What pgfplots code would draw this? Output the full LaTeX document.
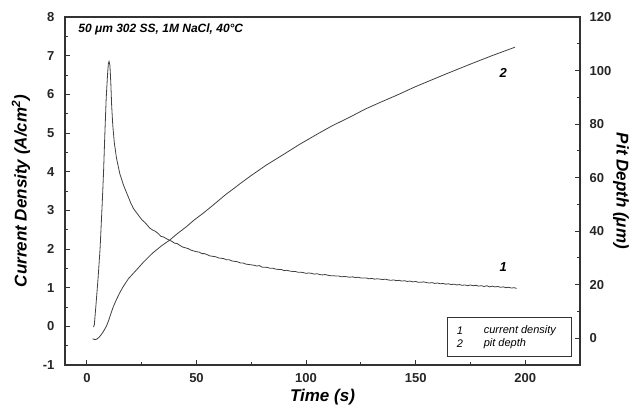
\documentclass[border=0pt]{standalone}
\usepackage{fontspec}
\setmainfont{Liberation Sans}
\usepackage{pgfplots}
\pgfplotsset{compat=1.18}
\definecolor{ln}{gray}{0.25}
\definecolor{ax}{gray}{0.2}
\newcommand{\tickf}{\fontsize{13}{15}\selectfont\bfseries}
\newcommand{\labf}{\fontsize{17}{20}\selectfont\bfseries\itshape}
\begin{document}
\begin{tikzpicture}
\begin{axis}[
  name=ax1,
  scale only axis, width=515pt, height=348pt,
  xmin=-10, xmax=225, ymin=-1, ymax=8,
  xtick={0,50,100,150,200}, minor x tick num=1,
  ytick={-1,0,1,2,3,4,5,6,7,8}, minor y tick num=1,
  xtick pos=bottom, ytick pos=left,
  tick align=inside,
  major tick length=5pt, minor tick length=3pt,
  axis line style={ax, line width=1.1pt},
  every tick/.style={ax, line width=0.9pt},
  /pgf/number format/assume math mode=true,
  ticklabel style={font=\tickf, text=black!85},
  xticklabel style={yshift=-5pt},
  yticklabel style={xshift=-7pt},
  xlabel={Time (s)}, xlabel style={font=\labf, yshift=0pt},
  ylabel={Current Density (A/cm\textsuperscript{2})}, ylabel style={font=\labf, yshift=6pt},
  clip=false,
]
\coordinate (BL) at (rel axis cs:0,0);
\coordinate (TR) at (rel axis cs:1,1);
\addplot[ln, line width=0.8pt] coordinates {
(3.0,-0.02)(3.4,0.05)(4.2,0.6)(5.1,1.25)(6.0,2.0)(7.0,3.2)(7.6,4.0)(8.2,5.0)(8.8,5.9)(9.4,6.5)(9.8,6.8)(10.1,6.85)(10.5,6.75)(10.9,6.3)(11.3,5.7)(11.8,5.2)(12.5,4.75)(13.5,4.35)(15,3.95)(16.7,3.65)(18.5,3.4)
(20,3.19)(21.2,3.05)(22.5,2.95)(23.7,2.86)(25,2.76)(26.2,2.70)(27.5,2.62)(28.7,2.54)(30,2.49)(31.2,2.46)(32.5,2.40)(33.7,2.33)(35,2.31)(36.2,2.27)(37.5,2.23)(38.7,2.20)(40,2.15)(41.2,2.14)(42.5,2.09)(43.7,2.05)(45,2.03)(46.2,2.01)(47.5,1.97)(48.7,1.95)(50,1.93)(51.2,1.92)(52.5,1.88)(53.7,1.88)(55,1.85)(56.2,1.82)(57.5,1.81)(58.7,1.80)(60,1.77)(61.2,1.76)(62.5,1.75)(63.7,1.72)(65,1.72)(66.2,1.69)(67.5,1.68)(68.7,1.67)(70,1.64)(71.2,1.64)(72.5,1.61)(73.7,1.60)(75,1.59)(76.2,1.58)(77.5,1.56)(78.7,1.57)(80,1.53)(81.2,1.53)(82.5,1.52)(83.7,1.50)(85,1.50)(86.2,1.48)(87.5,1.47)(88.7,1.47)(90,1.44)(91.2,1.45)(92.5,1.43)(93.7,1.42)(95,1.42)(96.2,1.40)(97.5,1.40)(98.7,1.39)(100,1.37)(101.2,1.38)(102.5,1.37)(103.7,1.35)(105,1.36)(106.2,1.34)(107.5,1.33)(108.7,1.34)(110,1.32)(111.2,1.31)(112.5,1.31)(113.7,1.30)(115,1.30)(116.2,1.28)(117.5,1.29)(118.7,1.28)(120,1.27)(121.2,1.28)(122.5,1.26)(123.7,1.27)(125,1.25)(126.2,1.25)(127.5,1.25)(128.7,1.23)(130,1.24)(131.2,1.22)(132.5,1.23)(133.7,1.22)(135,1.21)(136.2,1.22)(137.5,1.20)(138.7,1.19)(140,1.20)(141.2,1.18)(142.5,1.19)(143.7,1.17)(145,1.18)(146.2,1.16)(147.5,1.17)(148.7,1.15)(150,1.16)(151.2,1.14)(152.5,1.14)(153.7,1.15)(155,1.13)(156.2,1.12)(157.5,1.13)(158.7,1.11)(160,1.12)(161.2,1.10)(162.5,1.11)(163.7,1.09)(165,1.10)(166.2,1.08)(167.5,1.09)(168.7,1.07)(170,1.08)(171.2,1.06)(172.5,1.07)(173.7,1.05)(175,1.07)(176.2,1.05)(177.5,1.06)(178.7,1.04)(180,1.05)(181.2,1.03)(182.5,1.05)(183.7,1.02)(185,1.04)(186.2,1.02)(187.5,1.03)(188.7,1.01)(190,1.02)(191.2,1.00)(192.5,1.01)(193.7,0.99)(195,1.00)(196,0.98)
};
\node[anchor=west, font=\fontsize{12}{14}\selectfont\bfseries\itshape] at (axis cs:-5.5,7.69) {50 μm 302 SS, 1M NaCl, 40°C};
\node[font=\fontsize{13}{15}\selectfont\bfseries\itshape] at (axis cs:190,1.53) {1};
\draw[ax, line width=0.8pt] (axis cs:164.5,0.24) rectangle (axis cs:221,-0.79);
\node[anchor=west, font=\fontsize{11}{13}\selectfont\itshape] at (axis cs:167.2,-0.12) {1};
\node[anchor=west, font=\fontsize{11}{13}\selectfont\itshape] at (axis cs:167.2,-0.46) {2};
\node[anchor=west, font=\fontsize{11}{13}\selectfont\itshape] at (axis cs:179.5,-0.12) {current density};
\node[anchor=west, font=\fontsize{11}{13}\selectfont\itshape] at (axis cs:179.5,-0.46) {pit depth};
\end{axis}
\begin{axis}[
  scale only axis, width=515pt, height=348pt,
  xmin=-10, xmax=225, ymin=-10, ymax=120,
  axis x line=none, axis y line*=right,
  ytick={0,20,40,60,80,100,120}, minor y tick num=1,
  tick align=inside,
  major tick length=5pt, minor tick length=3pt,
  axis line style={ax, line width=1.1pt},
  every tick/.style={ax, line width=0.9pt},
  /pgf/number format/assume math mode=true,
  ticklabel style={font=\tickf, text=black!85},
  yticklabel style={xshift=6pt},
  ylabel={Pit Depth (μm)}, ylabel style={font=\labf, rotate=180, yshift=-5pt},
  clip=false,
]
\addplot[ln, line width=0.8pt] coordinates {
(2.6,-0.2)(3.5,-0.5)(4.4,-0.4)(5.5,0.3)(6.5,1.3)(7.5,2.5)(8.9,4.5)(10,6.8)(11,9.3)(12,11.7)(13.5,14.5)(15,17)(16.5,19.2)(19,22.3)(22.6,25.5)(26,28.6)(30.1,31.9)(34,34.5)(37.7,36.6)(41,38.9)(45.3,41.6)(49,44.2)(52.9,46.6)(58,50)(63.5,53.8)(66.5,55.6)(70,57.8)(75,60.8)(81.7,64.6)(90,68.8)(96.8,72.3)(105,76.2)(112,79.4)(120,82.6)(127,85.6)(133,87.8)(142,91.0)(150,94)(163.5,98.6)(175,102.4)(185,105.6)(195.3,108.7)
};
\node[font=\fontsize{13}{15}\selectfont\bfseries\itshape] at (axis cs:190,99) {2};
\end{axis}
\pgfresetboundingbox
\path ([shift={(-65pt,-55pt)}]BL) rectangle ([shift={(59pt,17pt)}]TR);
\end{tikzpicture}
\end{document}
